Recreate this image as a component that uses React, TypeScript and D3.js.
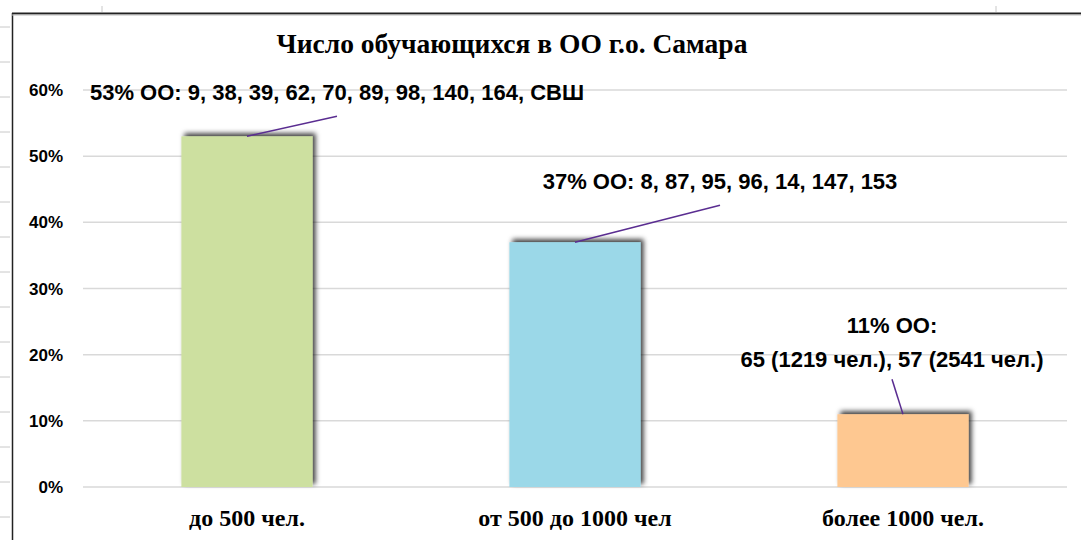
import React from 'react';
import * as d3 from 'd3';

const categories = ['до 500 чел.', 'от 500 до 1000 чел', 'более 1000 чел.'];
const shares = [0.53, 0.37, 0.11];
const barColors = ['#cde0a0', '#9bd8e8', '#fec891'];
const labelLines = [
  ['53% ОО: 9, 38, 39, 62, 70, 89, 98, 140, 164, СВШ'],
  ['37% ОО: 8, 87, 95, 96, 14, 147, 153'],
  ['11% ОО:', '65 (1219 чел.), 57 (2541 чел.)'],
];
const yTicks = [0, 0.1, 0.2, 0.3, 0.4, 0.5, 0.6];
const title = 'Число обучающихся в ОО г.о. Самара';

// where each label sits relative to the top of its bar
const labelPlace = [
  { dx: 90, lineDy: -20, textDy: -36 },
  { dx: 145, lineDy: -37, textDy: -53 },
  { dx: -11, lineDy: -35, textDy: -47 },
];

const W = 1081;
const H = 540;

export default function App() {
  const x = d3.scaleBand<string>().domain(categories).range([83, 1067]).padding(0);
  const y = d3.scaleLinear().domain([0, 0.6]).range([487, 90]);
  const barW = x.bandwidth() * 0.4;
  const fmt = d3.format('.0%');
  const sans = '"Liberation Sans", Arial, sans-serif';
  const serif = '"Liberation Serif", "Times New Roman", serif';

  const rowMarks = d3.range(27, H, 35);

  return (
    <svg
      width={W}
      height={H}
      style={{ position: 'fixed', left: 0, top: 0, background: '#fff' }}
    >
      <defs>
        <filter id="shadow" x="-20%" y="-20%" width="140%" height="140%">
          <feDropShadow dx="3" dy="-3" stdDeviation="2.5" floodColor="#000" floodOpacity="0.75" />
        </filter>
      </defs>

      {/* spreadsheet frame */}
      {rowMarks.map(r => (
        <line key={r} x1={0} x2={10} y1={r} y2={r} stroke="#c8c8c8" strokeWidth={1} />
      ))}
      <line x1={102} x2={102} y1={6} y2={12} stroke="#c8c8c8" />
      <line x1={996} x2={996} y1={6} y2={12} stroke="#c8c8c8" />
      <line x1={12.5} x2={12.5} y1={13} y2={H} stroke="#222" strokeWidth={1.5} />
      <line x1={12} x2={W} y1={13.5} y2={13.5} stroke="#222" strokeWidth={2} />
      <line x1={12} x2={W} y1={15} y2={15} stroke="#bbb" strokeWidth={1} />

      <text
        x={512}
        y={53}
        textAnchor="middle"
        fontFamily={serif}
        fontWeight="bold"
        fontSize={27.5}
        fill="#000"
      >
        {title}
      </text>

      {yTicks.map(t => (
        <g key={t}>
          <line x1={83} x2={1067} y1={y(t)} y2={y(t)} stroke="#d9d9d9" strokeWidth={1.5} />
          <text
            x={63}
            y={y(t) + 6}
            textAnchor="end"
            fontFamily={sans}
            fontWeight="bold"
            fontSize={17}
            fill="#000"
          >
            {fmt(t)}
          </text>
        </g>
      ))}

      {categories.map((c, i) => {
        const cx = (x(c) as number) + x.bandwidth() / 2;
        const top = y(shares[i]);
        const p = labelPlace[i];
        const lines = labelLines[i];
        return (
          <g key={c}>
            <rect
              x={cx - barW / 2}
              y={top}
              width={barW}
              height={y(0) - top}
              fill={barColors[i]}
              filter="url(#shadow)"
            />
            <line
              x1={cx}
              y1={top}
              x2={cx + p.dx}
              y2={top + p.lineDy}
              stroke="#5a2d91"
              strokeWidth={1.5}
            />
            {lines.map((l, j) => (
              <text
                key={j}
                x={cx + p.dx}
                y={top + p.textDy - (lines.length - 1 - j) * 34}
                textAnchor="middle"
                fontFamily={sans}
                fontWeight="bold"
                fontSize={22}
                fill="#000"
              >
                {l}
              </text>
            ))}
            <text
              x={cx}
              y={526}
              textAnchor="middle"
              fontFamily={serif}
              fontWeight="bold"
              fontSize={24}
              fill="#000"
            >
              {c}
            </text>
          </g>
        );
      })}
    </svg>
  );
}
